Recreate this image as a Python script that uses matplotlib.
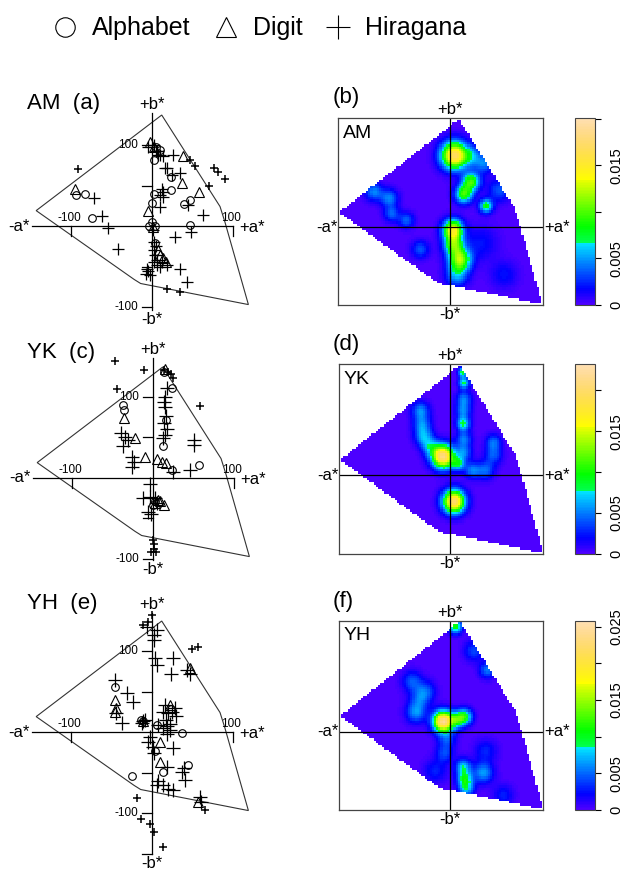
import numpy as np
import matplotlib
matplotlib.use("Agg")
import matplotlib.pyplot as plt
from matplotlib.path import Path
from matplotlib.patches import Polygon
from matplotlib.colors import ListedColormap, Normalize, hsv_to_rgb
from matplotlib.cm import ScalarMappable
from matplotlib.lines import Line2D

plt.rcParams['font.family'] = ['Liberation Sans', 'DejaVu Sans']

W, H = 623, 872

# ---- 色域多边形 (a*, b*)
gamut_a = [12, 84, 90, 119, -14, -22, -143]
gamut_b = [137, 24, 5, -97, -71, -66, 19]

# ---- AM
am_alpha_a = [-94, -83, -74, 2, 0, 2, 24, 24, 47, 40, 47, 0, -4, 4, 4, 10, 5]
am_alpha_b = [38, 40, 10, 40, 28, 81, 61, 44, 32, 27, 1, 5, 0, 0, -21, 94, 97]
am_digit_a = [-95, -5, 37, 58, 38, -3, 8, 10, 17, 1, 3, 13]
am_digit_b = [46, 18, 53, 42, 86, 104, -30, -36, -44, -1, 98, -40]
am_hira_a = [-72, -62, -42, -54, 48, -5, 6, 8, 14, 26, 16, 35, 12, 10, 10, 45, 63,
             28, 1, 3, 4, 6, -5, -3, 10, 18, 35, 43,
             3, 5, 10, 18, 25, 14, 14, 3, 5, 2, 6, 12, -6, -8]
am_hira_b = [35, 12, -28, -3, -7, 98, 92, 88, 86, 88, 71, 65, 46, 38, 24, 26, 14,
             -13, -5, -30, -36, -42, -56, -60, -50, -48, -53, -69,
             100, 93, 88, 72, 63, 42, 36, -20, -25, -45, -48, -45, -53, -59]
am_hira_s_a = [-91, 47, 53, 76, 82, 90, 70, 18, 35]
am_hira_s_b = [70, 81, 74, 71, 67, 58, 49, -78, -82]

# ---- YK
yk_alpha_a = [-37, -36, 23, 16, 12, 57, 23, 0, 13, 3]
yk_alpha_b = [90, 84, 111, 72, 39, 16, 10, -33, 131, -28]
yk_digit_a = [-36, -22, -10, 5, 11, 16, 9, 2, 13, 15, 6]
yk_digit_b = [74, 49, 26, 24, 20, 18, -29, -31, -33, 135, -27]
yk_hira_a = [17, 15, 13, 15, 16, 14, 17, 15, 12, -39, -35, -31, -37, -26, -24, -26,
             50, 50, 46, 25, -4, -12, -4, 2, 5, -6, -3]
yk_hira_b = [111, 100, 94, 88, 76, 68, 60, 53, 49, 55, 51, 47, 39, 26, 20, 14,
             47, 41, 10, 8, -7, -25, -24, -25, -31, -42, -45]
yk_hira_s_a = [-47, -11, -45, 58, 13, 19, 22, 25, 0, 1, -2, 4, 1]
yk_hira_s_b = [144, 133, 110, 89, 133, 131, 128, 123, -77, -81, -91, -91, -88]

# ---- YH
yh_alpha_a = [-46, 6, 37, 4, 14, 45, -25, -11, -13, 24]
yh_alpha_b = [56, 9, -1, -24, -49, -41, -54, 13, 15, 29]
yh_digit_a = [-46, -46, 47, 10, 10, 57, -11, 22, -44]
yh_digit_b = [40, 25, 79, -12, -37, -86, 13, 33, 30]
yh_hira_a = [6, 2, 2, -6, 4, 6, 26, 24, 43, 47, -46, -31, -23, -44, -37, -11, -9, -12,
             14, 20, 25, 17, 19, 22, 14, 8, -5, 1, 26, 18, 39, 37, 41, 8, 14, 20, 26,
             6, 59, 61, 16, 28, 30, 22, 18, -3, 2]
yh_hira_b = [126, 120, 114, 130, 91, 83, 91, 72, 77, 72, 64, 48, 37, 23, 11, 13, 15, 11,
             25, 24, 25, 15, 7, 10, 5, 9, -12, -18, -20, -43, -45, -49, -59, -61, -65,
             -70, -72, -66, -80, -86, 33, 30, 20, 2, -2, -6, -26]
yh_hira_s_a = [0, -11, -5, 49, 57, 65, -19, -13, -2, 2, 13]
yh_hira_s_b = [144, 132, 136, 103, 105, -96, -82, -107, -113, -123, -142]

# ---- 密度图的峰 (a*, b*, 峰值, 宽度)
am_blob_a = [6, 28, 18, 47, 4, 5, 13, 9, -98, -78, -75, -56, -38, 30, 45, 64, 70, 40]
am_blob_b = [91, 58, 42, 27, -3, -22, -41, -61, 45, 37, 17, 9, -28, 90, 80, 47, -60, -20]
am_blob_v = [0.017, 0.0095, 0.0095, 0.0085, 0.014, 0.009, 0.0115, 0.005, 0.0045,
             0.0045, 0.0038, 0.0038, 0.0035, 0.004, 0.004, 0.0035, 0.002, 0.002]
am_blob_w = [12, 8, 8, 6, 9, 9, 10, 10, 8, 8, 7, 7, 8, 9, 8, 10, 12, 15]

yk_blob_a = [-10, 4, 16, 17, 15, 17, 16, 17, 17, -39, -37, -35, -26, 10, 28, 45, 55, 55]
yk_blob_b = [23, -33, 64, 115, 128, 95, 80, 45, 28, 80, 62, 47, 35, 14, 6, 6, 25, 41]
yk_blob_v = [0.021, 0.020, 0.0085, 0.0085, 0.009, 0.005, 0.005, 0.005, 0.005, 0.0055,
             0.005, 0.0055, 0.005, 0.007, 0.005, 0.0045, 0.004, 0.0045]
yk_blob_w = [10, 10, 6, 5, 4, 7, 7, 7, 7, 8, 8, 8, 8, 6, 7, 8, 8, 7]

yh_blob_a = [-10, 8, 18, -45, -50, -32, -40, 16, 18, 20, 6, 42, 47, 30, -5, -8, -20, 68, 45]
yh_blob_b = [12, 14, 18, 23, 62, 50, 40, -45, -60, -72, 130, -52, 76, 100, -10, -28, -50,
             -80, -25]
yh_blob_v = [0.024, 0.008, 0.010, 0.006, 0.0045, 0.004, 0.004, 0.008, 0.009, 0.007,
             0.011, 0.0065, 0.0055, 0.004, 0.004, 0.004, 0.003, 0.003, 0.003]
yh_blob_w = [9, 7, 7, 9, 9, 9, 9, 7, 7, 7, 6, 9, 7, 9, 8, 8, 10, 9, 10]

cb_max = [0.0201, 0.0232, 0.0258]
cb_ticks = [[0, 0.005, 0.01, 0.015, 0.02],
            [0, 0.005, 0.01, 0.015, 0.02],
            [0, 0.005, 0.01, 0.015, 0.02, 0.025]]
cb_labels = [['0', '0.005', '', '0.015', ''],
             ['0', '0.005', '', '0.015', ''],
             ['0', '0.005', '', '0.015', '', '0.025']]

names = ['AM', 'YK', 'YH']
letters = [('(a)', '(b)'), ('(c)', '(d)'), ('(e)', '(f)')]


def topo_colors(n):
    # R 的 topo.colors
    j = n // 3
    k = n // 3
    i = n - j - k
    hsv = [(h, 1, 1) for h in np.linspace(43 / 60, 31 / 60, i)]
    hsv += [(h, 1, 1) for h in np.linspace(23 / 60, 11 / 60, j)]
    hsv += [(h, s, 1) for h, s in zip(np.linspace(10 / 60, 6 / 60, k), np.linspace(1, 0.3, k))]
    return hsv_to_rgb(np.array(hsv))


cmap = ListedColormap(topo_colors(120))


def px_box(x0, y0, x1, y1):
    return [x0 / W, 1 - y1 / H, (x1 - x0) / W, (y1 - y0) / H]


fig = plt.figure(figsize=(W / 100, H / 100), dpi=100)

# ---- 左列：散点
s = 0.81  # 像素/单位
left_origin = [(152, 226), (153, 478), (152, 732)]
b_range = [(-104, 139), (-101, 148), (-150, 147)]
title_dy = [123, 126, 128]
scatter_data = [
    (am_alpha_a, am_alpha_b, am_digit_a, am_digit_b, am_hira_a, am_hira_b, am_hira_s_a, am_hira_s_b),
    (yk_alpha_a, yk_alpha_b, yk_digit_a, yk_digit_b, yk_hira_a, yk_hira_b, yk_hira_s_a, yk_hira_s_b),
    (yh_alpha_a, yh_alpha_b, yh_digit_a, yh_digit_b, yh_hira_a, yh_hira_b, yh_hira_s_a, yh_hira_s_b),
]
plus_size = [8, 10.5, 10.5]

for p in range(3):
    ox, oy = left_origin[p]
    ax = fig.add_axes(px_box(0, oy - 170, 300, oy + 150))
    ax.set_xlim(-ox / s, (300 - ox) / s)
    ax.set_ylim(-150 / s, 170 / s)
    ax.axis('off')
    ax.add_patch(Polygon(np.column_stack([gamut_a, gamut_b]), closed=True, fill=False,
                         ec='#333333', lw=0.8))
    blo, bhi = b_range[p]
    ax.plot([-148, 100], [0, 0], color='k', lw=0.9)
    ax.plot([0, 0], [blo, bhi], color='k', lw=0.9)
    tl = 10 / s
    for t in [-100, 100]:
        ax.plot([t, t], [0, -tl], color='k', lw=0.9)
        ax.text(t - 2 / s, 2 / s, str(t), ha='center', va='bottom', fontsize=8.5)
    for t in [-150, -100, -50, 50, 100, 150]:
        if blo - 1 <= t <= bhi:
            ax.plot([-tl, 0], [t, t], color='k', lw=0.9)
    for t in [-100, 100]:
        ax.text(-14 / s, t, str(t), ha='right', va='center', fontsize=8.5)
    ax.text(-148 - 2 / s, 0, '-a*', ha='right', va='center', fontsize=12)
    ax.text(100 + 6 / s, -1 / s, '+a*', ha='left', va='center', fontsize=12)
    ax.text(0, bhi + 1 / s, '+b*', ha='center', va='bottom', fontsize=12)
    ax.text(0, blo - 2 / s, '-b*', ha='center', va='top', fontsize=12)

    aa, ab, da, db, ha_, hb, hsa, hsb = scatter_data[p]
    ax.plot(aa, ab, ls='none', marker='o', mfc='none', mec='k', ms=5.5, mew=0.8, clip_on=False)
    ax.plot(da, db, ls='none', marker='^', mfc='none', mec='k', ms=7.5, mew=0.8, clip_on=False)
    ax.plot(ha_, hb, ls='none', marker='+', color='k', ms=plus_size[p], mew=0.9, clip_on=False)
    ax.plot(hsa, hsb, ls='none', marker='+', color='k', ms=5.5, mew=1.1, clip_on=False)

    fig.text(27 / W, 1 - (oy - title_dy[p]) / H, '%s  %s' % (names[p], letters[p][0]),
             ha='left', va='center', fontsize=16)

# ---- 右列：密度图
frames = [(338, 118, 543, 305), (339, 364, 543, 554), (339, 621, 543, 810)]
blobs = [(am_blob_a, am_blob_b, am_blob_v, am_blob_w),
         (yk_blob_a, yk_blob_b, yk_blob_v, yk_blob_w),
         (yh_blob_a, yh_blob_b, yh_blob_v, yh_blob_w)]
amin, amax = min(gamut_a), max(gamut_a)
bmin, bmax = min(gamut_b), max(gamut_b)
ga = np.linspace(amin, amax, 95)
gb = np.linspace(bmin, bmax, 85)
GA, GB = np.meshgrid(ga, gb)
inside = Path(np.column_stack([gamut_a, gamut_b])).contains_points(
    np.column_stack([GA.ravel(), GB.ravel()])).reshape(GA.shape)

for p in range(3):
    x0, y0, x1, y1 = frames[p]
    ax = fig.add_axes(px_box(x0, y0, x1, y1))
    Z = np.zeros_like(GA)
    for a0, b0, v, w in zip(*blobs[p]):
        Z += v * np.exp(-((GA - a0) ** 2 + (GB - b0) ** 2) / (2 * w ** 2))
    Z = np.ma.masked_where(~inside, np.minimum(Z, cb_max[p]))
    ax.imshow(Z, extent=(amin, amax, bmin, bmax), origin='lower', cmap=cmap,
              vmin=0, vmax=cb_max[p], interpolation='nearest', aspect='auto')
    ax.axhline(0, color='k', lw=0.9)
    ax.axvline(0, color='k', lw=0.9)
    ax.set_xlim(amin, amax)
    ax.set_ylim(bmin, bmax)
    ax.set_xticks([])
    ax.set_yticks([])
    for sp in ax.spines.values():
        sp.set_color('#444444')
        sp.set_linewidth(0.9)
    ax.text(0, bmax + 1, '+b*', ha='center', va='bottom', fontsize=12)
    ax.text(0, bmin - 3, '-b*', ha='center', va='top', fontsize=12)
    ax.text(amin - 1, 0, '-a*', ha='right', va='center', fontsize=12)
    ax.text(amax + 2, 0, '+a*', ha='left', va='center', fontsize=12)
    fig.text(333 / W, 1 - (y0 - 20) / H, letters[p][1], ha='left', va='center', fontsize=16)
    fig.text((x0 + 5) / W, 1 - (y0 + 15) / H, names[p], ha='left', va='center', fontsize=14)

    # 色条，刻度标签竖排居中
    cax = fig.add_axes(px_box(575, y0, 595, y1))
    sm = ScalarMappable(norm=Normalize(0, cb_max[p]), cmap=cmap)
    cb = fig.colorbar(sm, cax=cax)
    cb.set_ticks(cb_ticks[p])
    cb.set_ticklabels(cb_labels[p])
    cax.tick_params(labelsize=10.5, length=4, width=0.8, pad=6)
    for lab in cax.get_yticklabels():
        lab.set_rotation(90)
        lab.set_rotation_mode('anchor')
        lab.set_ha('center')
        lab.set_va('top')
    cb.outline.set_linewidth(0.8)
    cb.outline.set_edgecolor('#444444')

# ---- 图例
handles = [Line2D([], [], ls='none', marker='o', mfc='none', mec='k', ms=14, mew=0.8),
           Line2D([], [], ls='none', marker='^', mfc='none', mec='k', ms=15, mew=0.8),
           Line2D([], [], ls='none', marker='+', color='k', ms=17, mew=0.8)]
fig.legend(handles, ['Alphabet', 'Digit', 'Hiragana'], loc='upper center',
           bbox_to_anchor=(258 / W, 1 + 6 / H), ncol=3, frameon=False, fontsize=18,
           handletextpad=0.5, columnspacing=0.8, handlelength=1.2)

fig.savefig('out.png', dpi=100)
